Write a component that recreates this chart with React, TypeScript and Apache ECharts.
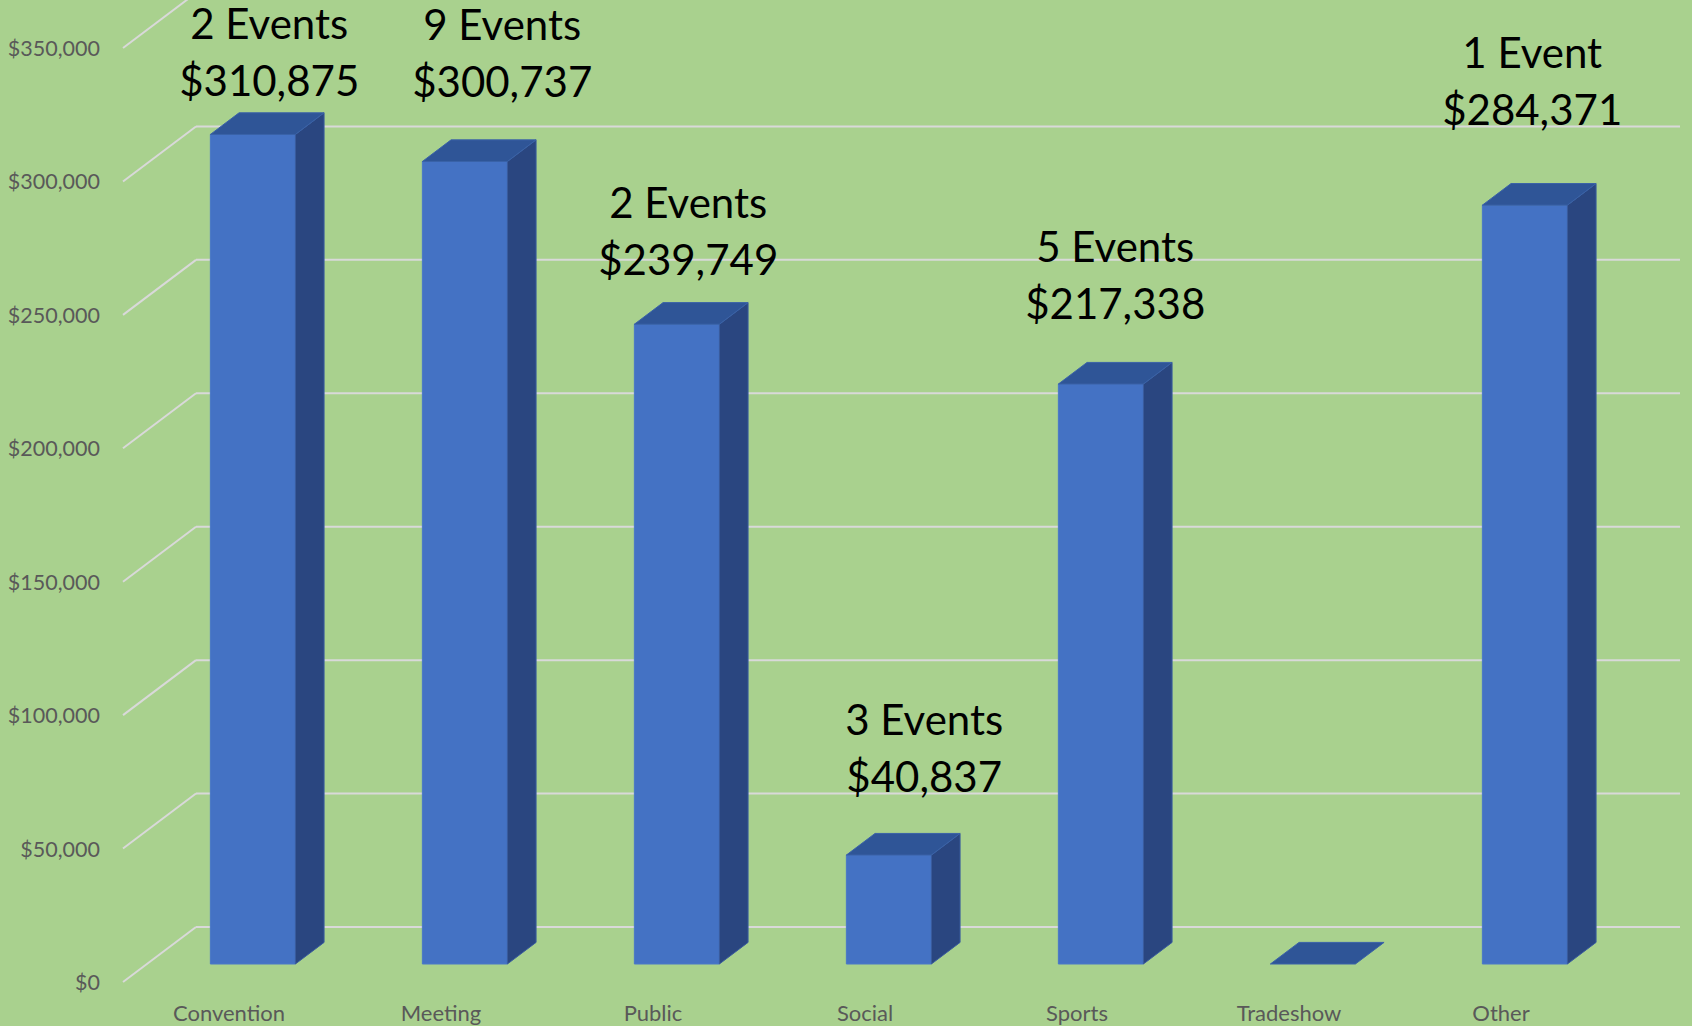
import React, { useEffect, useRef } from "react";
import * as echarts from "echarts";

const categories = ["Convention", "Meeting", "Public", "Social", "Sports", "Tradeshow", "Other"];
const revenue = [310875, 300737, 239749, 40837, 217338, 0, 284371];
const eventCounts = [2, 9, 2, 3, 5, 0, 1];
const yTicks = [0, 50000, 100000, 150000, 200000, 250000, 300000, 350000];

// layout tweaks for the hand-placed data labels (pixels): gap above bar top, x nudge
const labelGap = [33, 59, 44, 57, 59, 0, 75];
const labelDx = [2, 23, -3, 21, 0, 0, -7];

const DEPTH_DX = 73;
const DEPTH_DY = 55;
const F1 = 0.327;
const F2 = 0.72;
const BAR_FRAC = 0.401;
const FONT = "Lato, 'Noto Sans', sans-serif";

export default function App() {
  const ref = useRef<HTMLDivElement>(null);
  useEffect(() => {
    if (!ref.current) return;
    const chart = echarts.init(ref.current, undefined, { renderer: "svg" });
    const option: any = {
      animation: false,
      backgroundColor: "#A9D18E",
      grid: { left: 123, top: 48, right: 85, bottom: 44, containLabel: false },
      xAxis: {
        type: "category",
        data: categories,
        axisLine: { show: false },
        axisTick: { show: false },
        axisLabel: { interval: 0, margin: 19, color: "#595959", fontSize: 22, fontFamily: FONT },
        splitLine: { show: false },
      },
      yAxis: {
        type: "value",
        min: 0,
        max: 350000,
        interval: 50000,
        axisLine: { show: false },
        axisTick: { show: false },
        splitLine: { show: false },
        axisLabel: {
          margin: 23,
          color: "#595959",
          fontSize: 21.5,
          fontFamily: FONT,
          formatter: (v: number) => "$" + v.toLocaleString("en-US"),
        },
      },
      series: [
        {
          type: "custom",
          z: 1,
          silent: true,
          data: yTicks.map((t) => [0, t]),
          renderItem: (params: any, api: any) => {
            const cs = params.coordSys;
            const y = api.coord([0, api.value(1)])[1];
            const style = { stroke: "#D9D9D9", lineWidth: 2 };
            return {
              type: "group",
              children: [
                {
                  type: "line",
                  shape: { x1: cs.x, y1: y, x2: cs.x + DEPTH_DX, y2: y - DEPTH_DY },
                  style,
                },
                {
                  type: "line",
                  shape: { x1: cs.x + DEPTH_DX, y1: y - DEPTH_DY, x2: cs.x + cs.width + DEPTH_DX, y2: y - DEPTH_DY },
                  style,
                },
              ],
            };
          },
        },
        {
          type: "custom",
          z: 2,
          data: revenue.map((v, i) => [i, v]),
          renderItem: (params: any, api: any) => {
            const i = api.value(0);
            const v = api.value(1);
            const p0 = api.coord([i, 0]);
            const pv = api.coord([i, v]);
            const catW = api.size([1, 0])[0];
            const bw = catW * BAR_FRAC;
            const sx = F1 * DEPTH_DX;
            const sy = F1 * DEPTH_DY;
            const ddx = (F2 - F1) * DEPTH_DX;
            const ddy = (F2 - F1) * DEPTH_DY;
            const xl = p0[0] + sx - bw / 2;
            const xr = xl + bw;
            const yb = p0[1] - sy;
            const yt = pv[1] - sy;
            const children: any[] = [];
            if (v > 0) {
              children.push({
                type: "polygon",
                shape: { points: [[xl, yb], [xr, yb], [xr, yt], [xl, yt]] },
                style: { fill: "#4472C4", stroke: "#4A78C8", lineWidth: 1 },
              });
              children.push({
                type: "polygon",
                shape: { points: [[xr, yb], [xr + ddx, yb - ddy], [xr + ddx, yt - ddy], [xr, yt]] },
                style: { fill: "#2A4680", stroke: "#3A5C9E", lineWidth: 1 },
              });
            }
            children.push({
              type: "polygon",
              shape: { points: [[xl, yt], [xr, yt], [xr + ddx, yt - ddy], [xl + ddx, yt - ddy]] },
              style: { fill: "#2F5597", stroke: "#3A62A8", lineWidth: 1 },
            });
            const n = eventCounts[i];
            if (v > 0) {
              const cx = (xl + xr + ddx) / 2 + labelDx[i];
              const line2 = yt - ddy - labelGap[i];
              const textStyle = {
                fill: "#000000",
                fontSize: 42,
                fontFamily: FONT,
                lineHeight: 44,
                align: "center",
                verticalAlign: "middle",
              };
              children.push({
                type: "text",
                x: cx,
                y: line2 - 57,
                style: { ...textStyle, text: `${n} Event${n === 1 ? "" : "s"}` },
              });
              children.push({
                type: "text",
                x: cx,
                y: line2,
                style: { ...textStyle, text: `$${v.toLocaleString("en-US")}` },
              });
            }
            return { type: "group", children };
          },
        },
      ],
    };
    chart.setOption(option);
    return () => chart.dispose();
  }, []);
  return (
    <div
      ref={ref}
      style={{ position: "fixed", left: 0, top: 0, width: 1692, height: 1026 }}
    />
  );
}
